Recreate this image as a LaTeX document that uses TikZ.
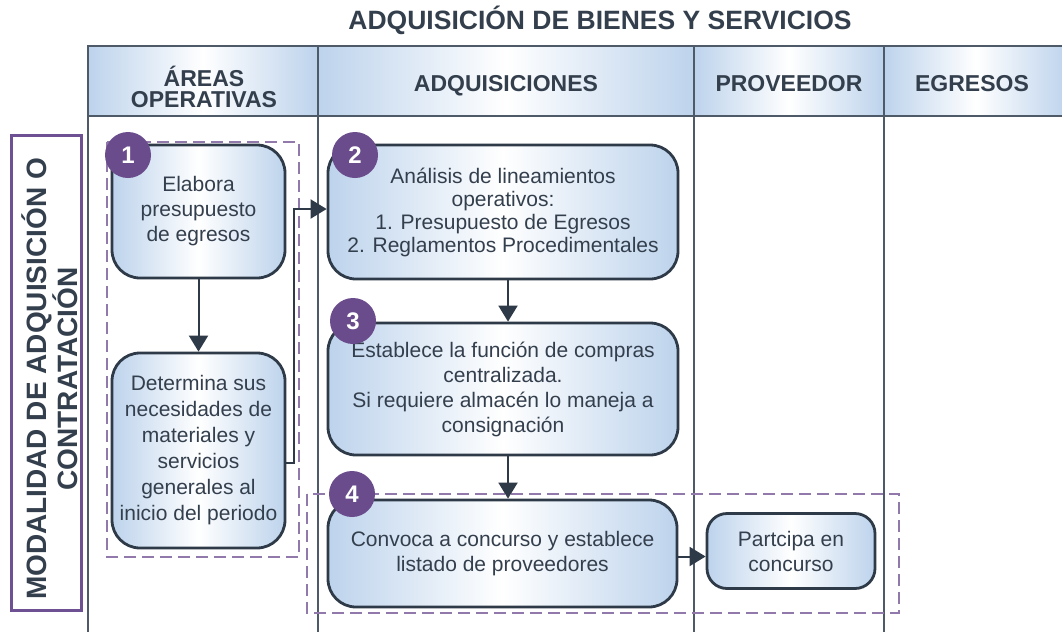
\documentclass[tikz,border=0pt]{standalone}
\usepackage{fontspec}
\setmainfont{Liberation Sans}
\usetikzlibrary{arrows.meta,calc}
\definecolor{txt}{HTML}{343F4D}
\definecolor{bline}{HTML}{2E3A48}
\definecolor{bblue}{HTML}{BDD3EC}
\definecolor{purp}{HTML}{6A4C8C}
\definecolor{dpurp}{HTML}{9279AC}
\definecolor{lpurp}{HTML}{6D5192}
\definecolor{gline}{HTML}{4E5A68}
\begin{document}
\begin{tikzpicture}[x=1pt,y=-1pt,
  box/.style={draw=bline, line width=2.8pt, rounded corners=28pt, left color=bblue, right color=bblue, middle color=white, align=center, inner sep=0pt, text=txt, font=\fontsize{21}{25}\selectfont},
  num/.style={circle, fill=purp, minimum size=46pt, inner sep=0pt, text=white, font=\fontsize{24}{24}\selectfont\bfseries},
  arr/.style={draw=bline, line width=2pt, -{Triangle[length=16pt,width=19pt]}},
  hcell/.style={draw=gline, line width=2pt, left color=bblue, right color=bblue, middle color=white, minimum height=70pt, inner sep=0pt},
  htext/.style={text=txt, align=center, inner sep=0pt, font=\fontsize{23}{21}\selectfont\bfseries},
  dashbox/.style={draw=dpurp, line width=1.6pt, dash pattern=on 12pt off 6pt},
  colline/.style={draw=gline, line width=1.6pt}
]
\useasboundingbox (0,0) rectangle (1062,632);

% title
\node[text=txt, inner sep=0pt, font=\fontsize{26.5}{26}\selectfont\bfseries] (title) at (600,20) {ADQUISICIÓN DE BIENES Y SERVICIOS};

% column lines
\coordinate (c1t) at (88,116);  \coordinate (c1b) at (88,632);
\coordinate (c2t) at (318,116); \coordinate (c2b) at (318,632);
\coordinate (c3t) at (694,116); \coordinate (c3b) at (694,632);
\coordinate (c4t) at (884,116); \coordinate (c4b) at (884,632);
\draw[colline] (c1t) -- (c1b);
\draw[colline] (c2t) -- (c2b);
\draw[colline] (c3t) -- (c3b);
\draw[colline] (c4t) -- (c4b);

% header cells
\node[hcell, minimum width=230pt] (h1) at (203,81) {};
\node[hcell, minimum width=376pt] (h2) at (506,81) {};
\node[hcell, minimum width=190pt] (h3) at (789,81) {};
\node[hcell, minimum width=184pt] (h4) at (976,81) {};
\node[htext, anchor=base] (t1a) at (204,86) {ÁREAS};
\node[htext, anchor=base] (t1b) at (204,107) {OPERATIVAS};
\node[htext, anchor=base] (t2) at (506,91) {ADQUISICIONES};
\node[htext, anchor=base] (t3) at (789,91) {PROVEEDOR};
\node[htext, anchor=base] (t4) at (972,91) {EGRESOS};

% left label
\node[draw=lpurp, line width=3pt, fill=white, minimum width=70pt, minimum height=475pt, inner sep=0pt] (lab) at (46,372.5) {};
\node[rotate=90, align=center, text=txt, inner sep=0pt, font=\fontsize{28}{25}\selectfont\bfseries] (labt) at (50,379) {MODALIDAD DE ADQUISICIÓN O\\CONTRATACIÓN};

% dashed groups
\draw[dashbox] (107,142) rectangle (299,557);
\draw[dashbox] (307,494) rectangle (899,613);

% boxes
\node[box, minimum width=173pt, minimum height=133pt] (b1) at (198.5,211.5) {Elabora\\presupuesto\\de egresos};
\node[box, minimum width=173pt, minimum height=195pt, font=\fontsize{21}{26}\selectfont] (b1b) at (198.5,450.5) {Determina sus\\necesidades de\\materiales y\\servicios\\generales al\\inicio del periodo};
\node[box, minimum width=350pt, minimum height=134pt, font=\fontsize{21}{23}\selectfont] (b2) at (503,212) {Análisis de lineamientos\\operativos:\\1. Presupuesto de Egresos\\2. Reglamentos Procedimentales};
\node[box, minimum width=350pt, minimum height=132pt] (b3) at (503,389) {Establece la función de compras\\centralizada.\\Si requiere almacén lo maneja a\\consignación};
\node[box, minimum width=349pt, minimum height=107pt] (b4) at (502.5,553.5) {Convoca a concurso y establece\\listado de proveedores};
\node[box, minimum width=168pt, minimum height=75pt, rounded corners=20pt] (p1) at (791,551) {Partcipa en\\concurso};

% numbers
\node[num] (n1) at (128,155) {1};
\node[num] (n2) at (355,155) {2};
\node[num] (n3) at (353,321) {3};
\node[num] (n4) at (352,494) {4};

% connectors
\draw[arr] (b1.south) -- (b1b.north);
\coordinate (e1) at ([yshift=-12pt]b1b.east);
\draw[arr] (e1) -- ++(8,0) |- ([yshift=3pt]b2.west);
\coordinate (a2) at ([xshift=5pt]b2.south);
\draw[arr] (a2) -- (a2 |- b3.north);
\coordinate (a3) at ([xshift=5pt]b3.south);
\draw[arr] (a3) -- (a3 |- b4.north);
\coordinate (a4) at ([yshift=-3pt]b4.east);
\draw[arr] (a4) -- (a4 -| p1.west);
\end{tikzpicture}
\end{document}
